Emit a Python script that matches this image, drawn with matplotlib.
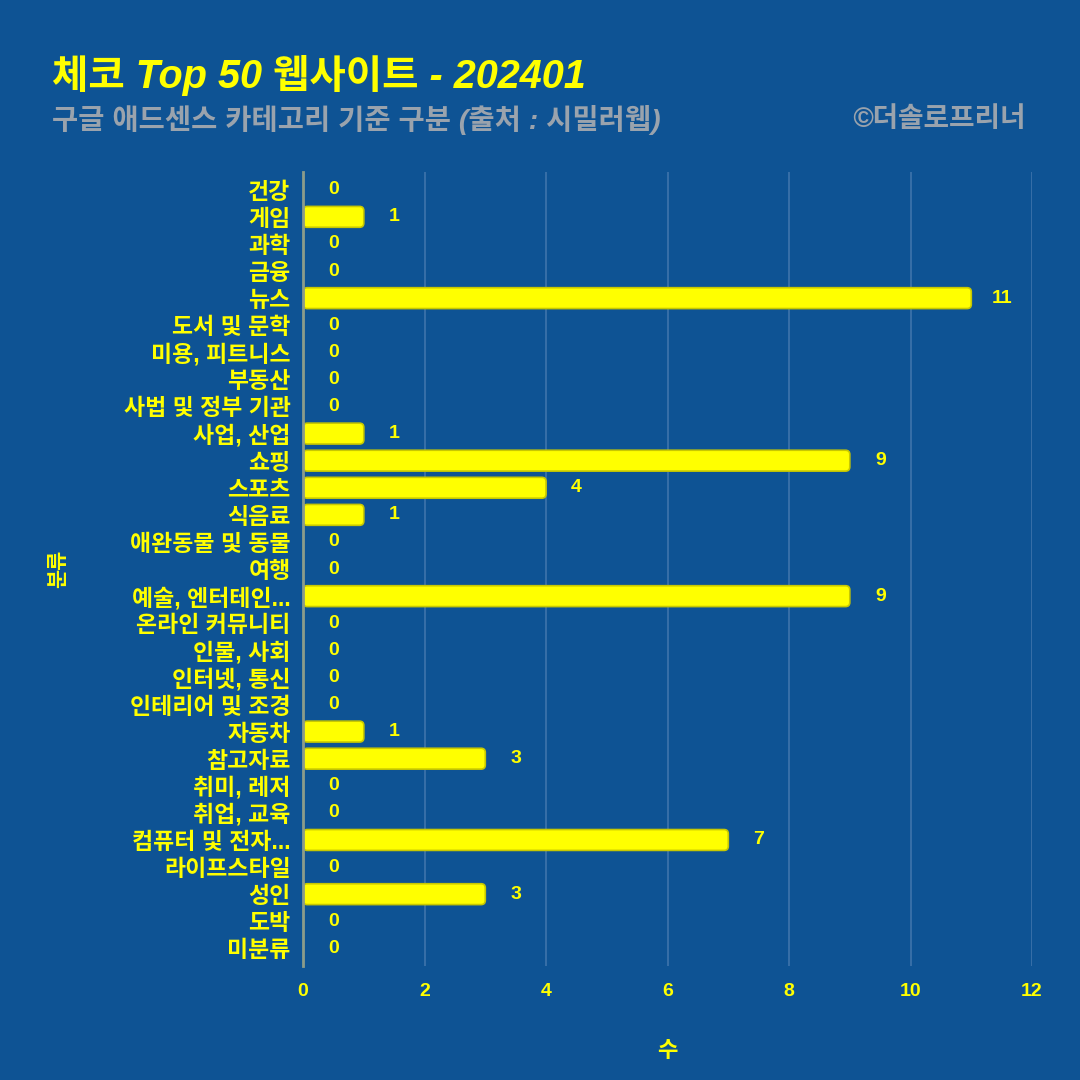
import matplotlib.pyplot as plt
from matplotlib.patches import FancyBboxPatch

plt.rcParams['font.family'] = ['Liberation Sans', 'Noto Sans CJK KR', 'DejaVu Sans']

# data
categories = ['건강', '게임', '과학', '금융', '뉴스', '도서 및 문학', '미용, 피트니스', '부동산',
              '사법 및 정부 기관', '사업, 산업', '쇼핑', '스포츠', '식음료', '애완동물 및 동물',
              '여행', '예술, 엔터테인...', '온라인 커뮤니티', '인물, 사회', '인터넷, 통신',
              '인테리어 및 조경', '자동차', '참고자료', '취미, 레저', '취업, 교육',
              '컴퓨터 및 전자...', '라이프스타일', '성인', '도박', '미분류']
counts = [0, 1, 0, 0, 11, 0, 0, 0, 0, 1, 9, 4, 1, 0, 0, 9, 0, 0, 0, 0, 1, 3, 0, 0, 7, 0, 3, 0, 0]
xticks = [0, 2, 4, 6, 8, 10, 12]

bg = '#0e5394'
yellow = '#ffff00'
grey = '#9aa3ad'

fig = plt.figure(figsize=(10.8, 10.8), dpi=100, facecolor=bg)
ax = fig.add_axes([0.2806, 0.1056, 0.675, 0.735])
ax.set_facecolor(bg)

ypos = list(range(len(categories)))
bars = ax.barh(ypos, counts, height=0.77, color=yellow, zorder=3)

# swap the square bars for rounded ones of the same size
for b in bars:
    b.set_visible(False)
    if b.get_width() <= 0:
        continue
    r = 0.07
    patch = FancyBboxPatch((b.get_x() + r, b.get_y() + r * 2.2),
                           b.get_width() - 2 * r, b.get_height() - 2 * r * 2.2,
                           boxstyle=f'round,pad={r},rounding_size={r}',
                           mutation_aspect=2.2, facecolor=yellow,
                           edgecolor='#c8c800', linewidth=1.2, zorder=3)
    ax.add_patch(patch)

for y, v in zip(ypos, counts):
    ax.annotate(str(v), xy=(v, y), xytext=(22, 0), textcoords='offset points',
                ha='center', va='center', color=yellow, fontsize=14, fontweight='bold')

ax.set_ylim(len(categories) - 0.35, -0.65)
ax.set_xlim(0, 12)
ax.set_xticks(xticks)
ax.set_yticks(ypos)
ax.set_yticklabels(categories, color=yellow, fontsize=16.5, fontweight='bold')
ax.set_xticklabels([str(t) for t in xticks], color=yellow, fontsize=14, fontweight='bold')
ax.tick_params(axis='both', length=0)
ax.tick_params(axis='x', pad=12)
ax.tick_params(axis='y', pad=9)

ax.grid(axis='x', color='#3f74ab', linewidth=1.2, zorder=0)
ax.grid(axis='y', visible=False)
for side in ['top', 'right', 'bottom']:
    ax.spines[side].set_visible(False)
ax.spines['left'].set_color('#8c9c8a')
ax.spines['left'].set_linewidth(2)
ax.spines['left'].set_zorder(4)

ax.set_xlabel('수', color=yellow, fontsize=16, fontweight='bold', labelpad=30)
ax.set_ylabel('분류', color=yellow, fontsize=15, fontweight='bold', labelpad=0)
ax.yaxis.set_label_coords(-0.322, 0.5)

fig.text(0.048, 0.93, '체코 Top 50 웹사이트 - 202401', color=yellow, fontsize=28.5,
         fontweight='bold', fontstyle='italic', va='center', ha='left')
fig.text(0.048, 0.889, '구글 애드센스 카테고리 기준 구분 (출처 : 시밀러웹)', color=grey,
         fontsize=20.5, fontweight='bold', fontstyle='italic', va='center', ha='left')
fig.text(0.95, 0.889, '©더솔로프리너', color=grey, fontsize=20, fontweight='bold',
         fontstyle='italic', va='center', ha='right')

fig.savefig('out.png', dpi=100, facecolor=bg)
